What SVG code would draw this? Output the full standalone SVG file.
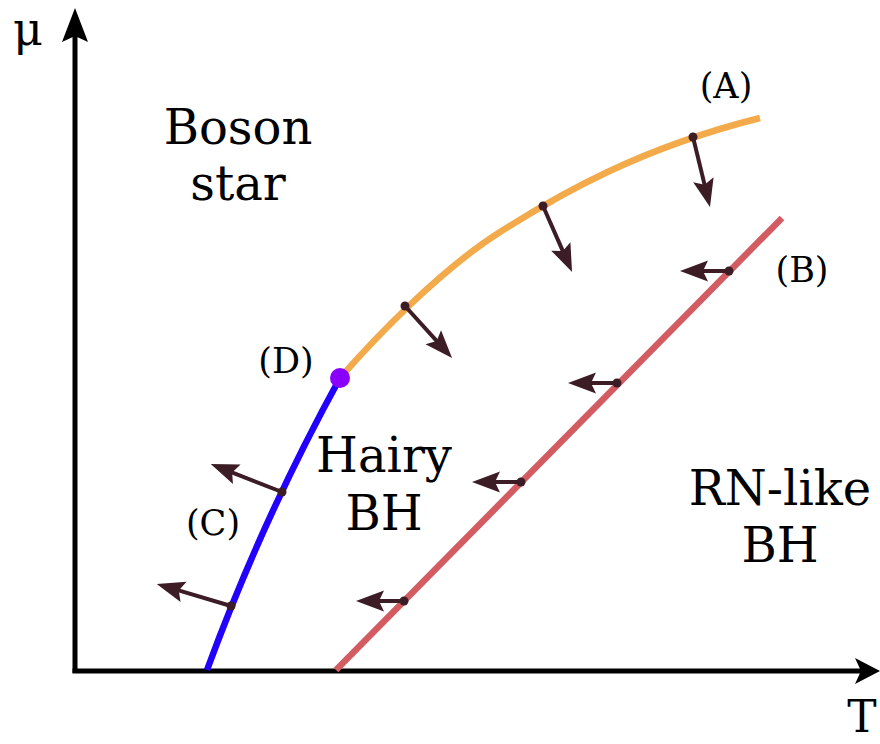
<svg xmlns="http://www.w3.org/2000/svg" width="880" height="744" viewBox="0 0 880 744">
<style>
text{font-family:"DejaVu Serif","Liberation Serif",serif;fill:#000;text-anchor:middle}
.big{font-size:48px}
.sm{font-size:35px}
.arr{stroke:#3c1d26;stroke-width:4;fill:none;marker-end:url(#ah)}
.dot{fill:#3c1d26}
</style>
<defs>
<marker id="ah" markerUnits="userSpaceOnUse" orient="auto" overflow="visible" markerWidth="1" markerHeight="1" refX="0" refY="0">
<path d="M22,0 L-6,-10.5 L-1,0 L-6,10.5 Z" fill="#3c1d26"/>
</marker>
</defs>
<rect width="880" height="744" fill="#fff"/>
<g id="axes">
<line x1="75" y1="673" x2="75" y2="36" stroke="#000" stroke-width="5"/>
<path d="M75,8 L62,42 L75,36 L88,42 Z" fill="#000"/>
<line x1="72.5" y1="671" x2="862" y2="671" stroke="#000" stroke-width="5"/>
<path d="M880,671 L855,658 L861,671 L855,684 Z" fill="#000"/>
<text x="28" y="45" font-size="46">μ</text>
<text x="862" y="732" font-size="44">T</text>
</g>
<g id="curves">
<path id="red" d="M336,670 L782,218" stroke="#d35c62" stroke-width="6.5" fill="none"/>
<path id="blue" d="M340,378 Q262,520 207,670" stroke="#2200ff" stroke-width="6.5" fill="none"/>
<path id="orange" d="M340,378 C375,338 440,270 500,232 S640,148 760,118" stroke="#f2aa4a" stroke-width="6.5" fill="none"/>
<circle cx="340" cy="378" r="10" fill="#8a00ff"/>
</g>
<g id="connectors">
<line class="arr" x1="693" y1="137" x2="704.8" y2="185.6"/>
<circle class="dot" cx="693" cy="137" r="4.5"/>
<line class="arr" x1="543" y1="206" x2="563.2" y2="251.9"/>
<circle class="dot" cx="543" cy="206" r="4.5"/>
<line class="arr" x1="405" y1="306" x2="437.3" y2="341.7"/>
<circle class="dot" cx="405" cy="306" r="4.5"/>
<line class="arr" x1="729" y1="271" x2="702" y2="271"/>
<circle class="dot" cx="729" cy="271" r="4.5"/>
<line class="arr" x1="617" y1="383" x2="590" y2="383"/>
<circle class="dot" cx="617" cy="383" r="4.5"/>
<line class="arr" x1="521" y1="482" x2="494" y2="482"/>
<circle class="dot" cx="521" cy="482" r="4.5"/>
<line class="arr" x1="404" y1="601" x2="378" y2="601"/>
<circle class="dot" cx="404" cy="601" r="4.5"/>
<line class="arr" x1="282" y1="492" x2="231.2" y2="472.1"/>
<circle class="dot" cx="282" cy="492" r="4.5"/>
<line class="arr" x1="231" y1="606" x2="177.8" y2="590.2"/>
<circle class="dot" cx="231" cy="606" r="4.5"/>
</g>
<g id="labels">
<g id="boson-star"><text class="big" x="238" y="144">Boson</text><text class="big" x="238" y="200">star</text></g>
<g id="hairy-bh"><text class="big" x="384" y="472">Hairy</text><text class="big" x="384" y="530">BH</text></g>
<g id="rn-bh"><text class="big" x="780" y="505">RN-like</text><text class="big" x="780" y="562">BH</text></g>
<text class="sm" x="726" y="98">(A)</text>
<text class="sm" x="802" y="282">(B)</text>
<text class="sm" x="213" y="535">(C)</text>
<text class="sm" x="286" y="373">(D)</text>
</g>
</svg>
